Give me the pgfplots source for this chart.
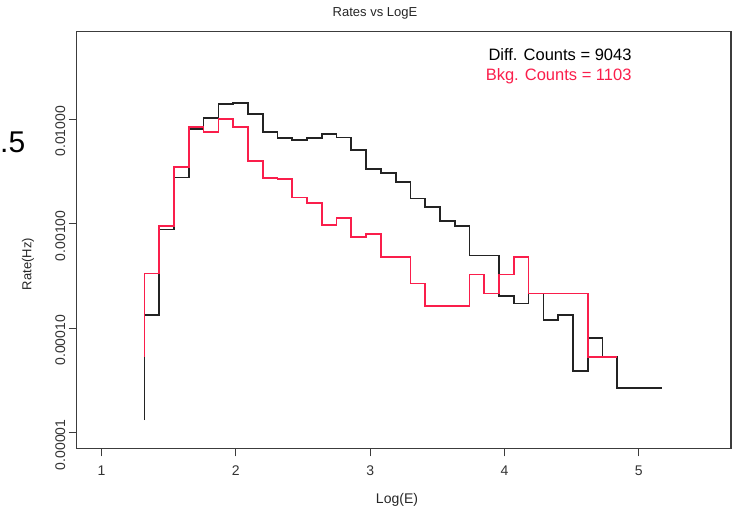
\documentclass[border=0pt]{standalone}
\usepackage{pgfplots}
\pgfplotsset{compat=1.18}
\usepackage{fontspec}
\setmainfont{Liberation Sans}
\definecolor{diffcol}{RGB}{35,35,35}
\definecolor{bkgcol}{RGB}{250,30,75}
\definecolor{framecol}{RGB}{60,60,60}

\begin{document}
\begin{tikzpicture}[x=1pt,y=1pt]
\path[use as bounding box] (0,0) rectangle (732,515);
\begin{axis}[
  at={(76.7pt,66.7pt)}, anchor=south west,
  scale only axis, width=654.3pt, height=416.8pt,
  xmin=0.815, xmax=5.687,
  ymode=log, ymin=7.1e-6, ymax=0.0693,
  xtick={1,2,3,4,5}, xticklabels={1,2,3,4,5},
  ytick={1e-5,1e-4,1e-3,1e-2},
  yticklabels={0.00001,0.00010,0.00100,0.01000},
  tick pos=left, tick align=outside,
  major tick length=8pt, minor tick num=0,
  log basis y=10,
  axis line style={line width=1.2pt, framecol},
  every tick/.style={line width=1.2pt, framecol},
  ticklabel style={font=\fontsize{14}{16}\selectfont, color=black!80},
  yticklabel style={rotate=90, anchor=south, xshift=-12pt},
  xticklabel style={anchor=north, yshift=-6pt},
  clip=false,
]
% total differential rate
\addplot[const plot mark left, diffcol, line width=1.75pt] coordinates {
(1.32,1.32e-5)
(1.32,1.335e-4)
(1.43,8.84e-4)
(1.54,2.78e-3)
(1.65,8.13e-3)
(1.76,1.036e-2)
(1.87,1.392e-2)
(1.98,1.423e-2)
(2.09,1.117e-2)
(2.20,7.51e-3)
(2.31,6.58e-3)
(2.42,6.38e-3)
(2.53,6.58e-3)
(2.64,7.18e-3)
(2.75,6.72e-3)
(2.86,5.08e-3)
(2.97,3.36e-3)
(3.08,3.08e-3)
(3.19,2.53e-3)
(3.30,1.75e-3)
(3.41,1.44e-3)
(3.52,1.07e-3)
(3.63,9.5e-4)
(3.74,4.98e-4)
(3.85,4.98e-4)
(3.96,2.03e-4)
(4.07,1.73e-4)
(4.18,2.15e-4)
(4.29,1.21e-4)
(4.40,1.335e-4)
(4.51,3.91e-5)
(4.62,8.04e-5)
(4.73,5.32e-5)
(4.84,2.69e-5)
(4.95,2.69e-5)
(5.06,2.69e-5)
(5.17,2.69e-5)
};
% background rate
\addplot[const plot mark left, bkgcol, line width=1.75pt] coordinates {
(1.32,5.29e-5)
(1.32,3.35e-4)
(1.43,9.57e-4)
(1.54,3.47e-3)
(1.65,8.49e-3)
(1.76,7.51e-3)
(1.87,1.0e-2)
(1.98,8.49e-3)
(2.09,3.99e-3)
(2.20,2.76e-3)
(2.31,2.70e-3)
(2.42,1.79e-3)
(2.53,1.57e-3)
(2.64,9.71e-4)
(2.75,1.14e-3)
(2.86,7.51e-4)
(2.97,7.96e-4)
(3.08,4.83e-4)
(3.19,4.83e-4)
(3.30,2.69e-4)
(3.41,1.63e-4)
(3.52,1.63e-4)
(3.63,1.63e-4)
(3.74,3.28e-4)
(3.85,2.15e-4)
(3.96,3.28e-4)
(4.07,4.83e-4)
(4.18,2.15e-4)
(4.29,2.15e-4)
(4.40,2.15e-4)
(4.51,2.15e-4)
(4.62,5.32e-5)
(4.73,5.32e-5)
(4.84,5.32e-5)
};
\end{axis}
% titles and annotations
\node[font=\fontsize{13}{15}\selectfont, text=black!85] at (375,502) {Rates vs LogE};
\node[font=\fontsize{14}{16}\selectfont, text=black!85] at (397,15) {Log(E)};
\node[font=\fontsize{13}{15}\selectfont, text=black!85, rotate=90] at (28,251) {Rate(Hz)};
\node[font=\fontsize{16.5}{19}\selectfont, anchor=east, text=black] at (635,460) {Diff. Counts = 9043};
\node[font=\fontsize{16.5}{19}\selectfont, anchor=east, text=bkgcol] at (635,439) {Bkg. Counts = 1103};
\node[font=\fontsize{30}{34}\selectfont, anchor=west, inner sep=0pt, text=black] at (0,373) {.5};
\end{tikzpicture}
\end{document}
